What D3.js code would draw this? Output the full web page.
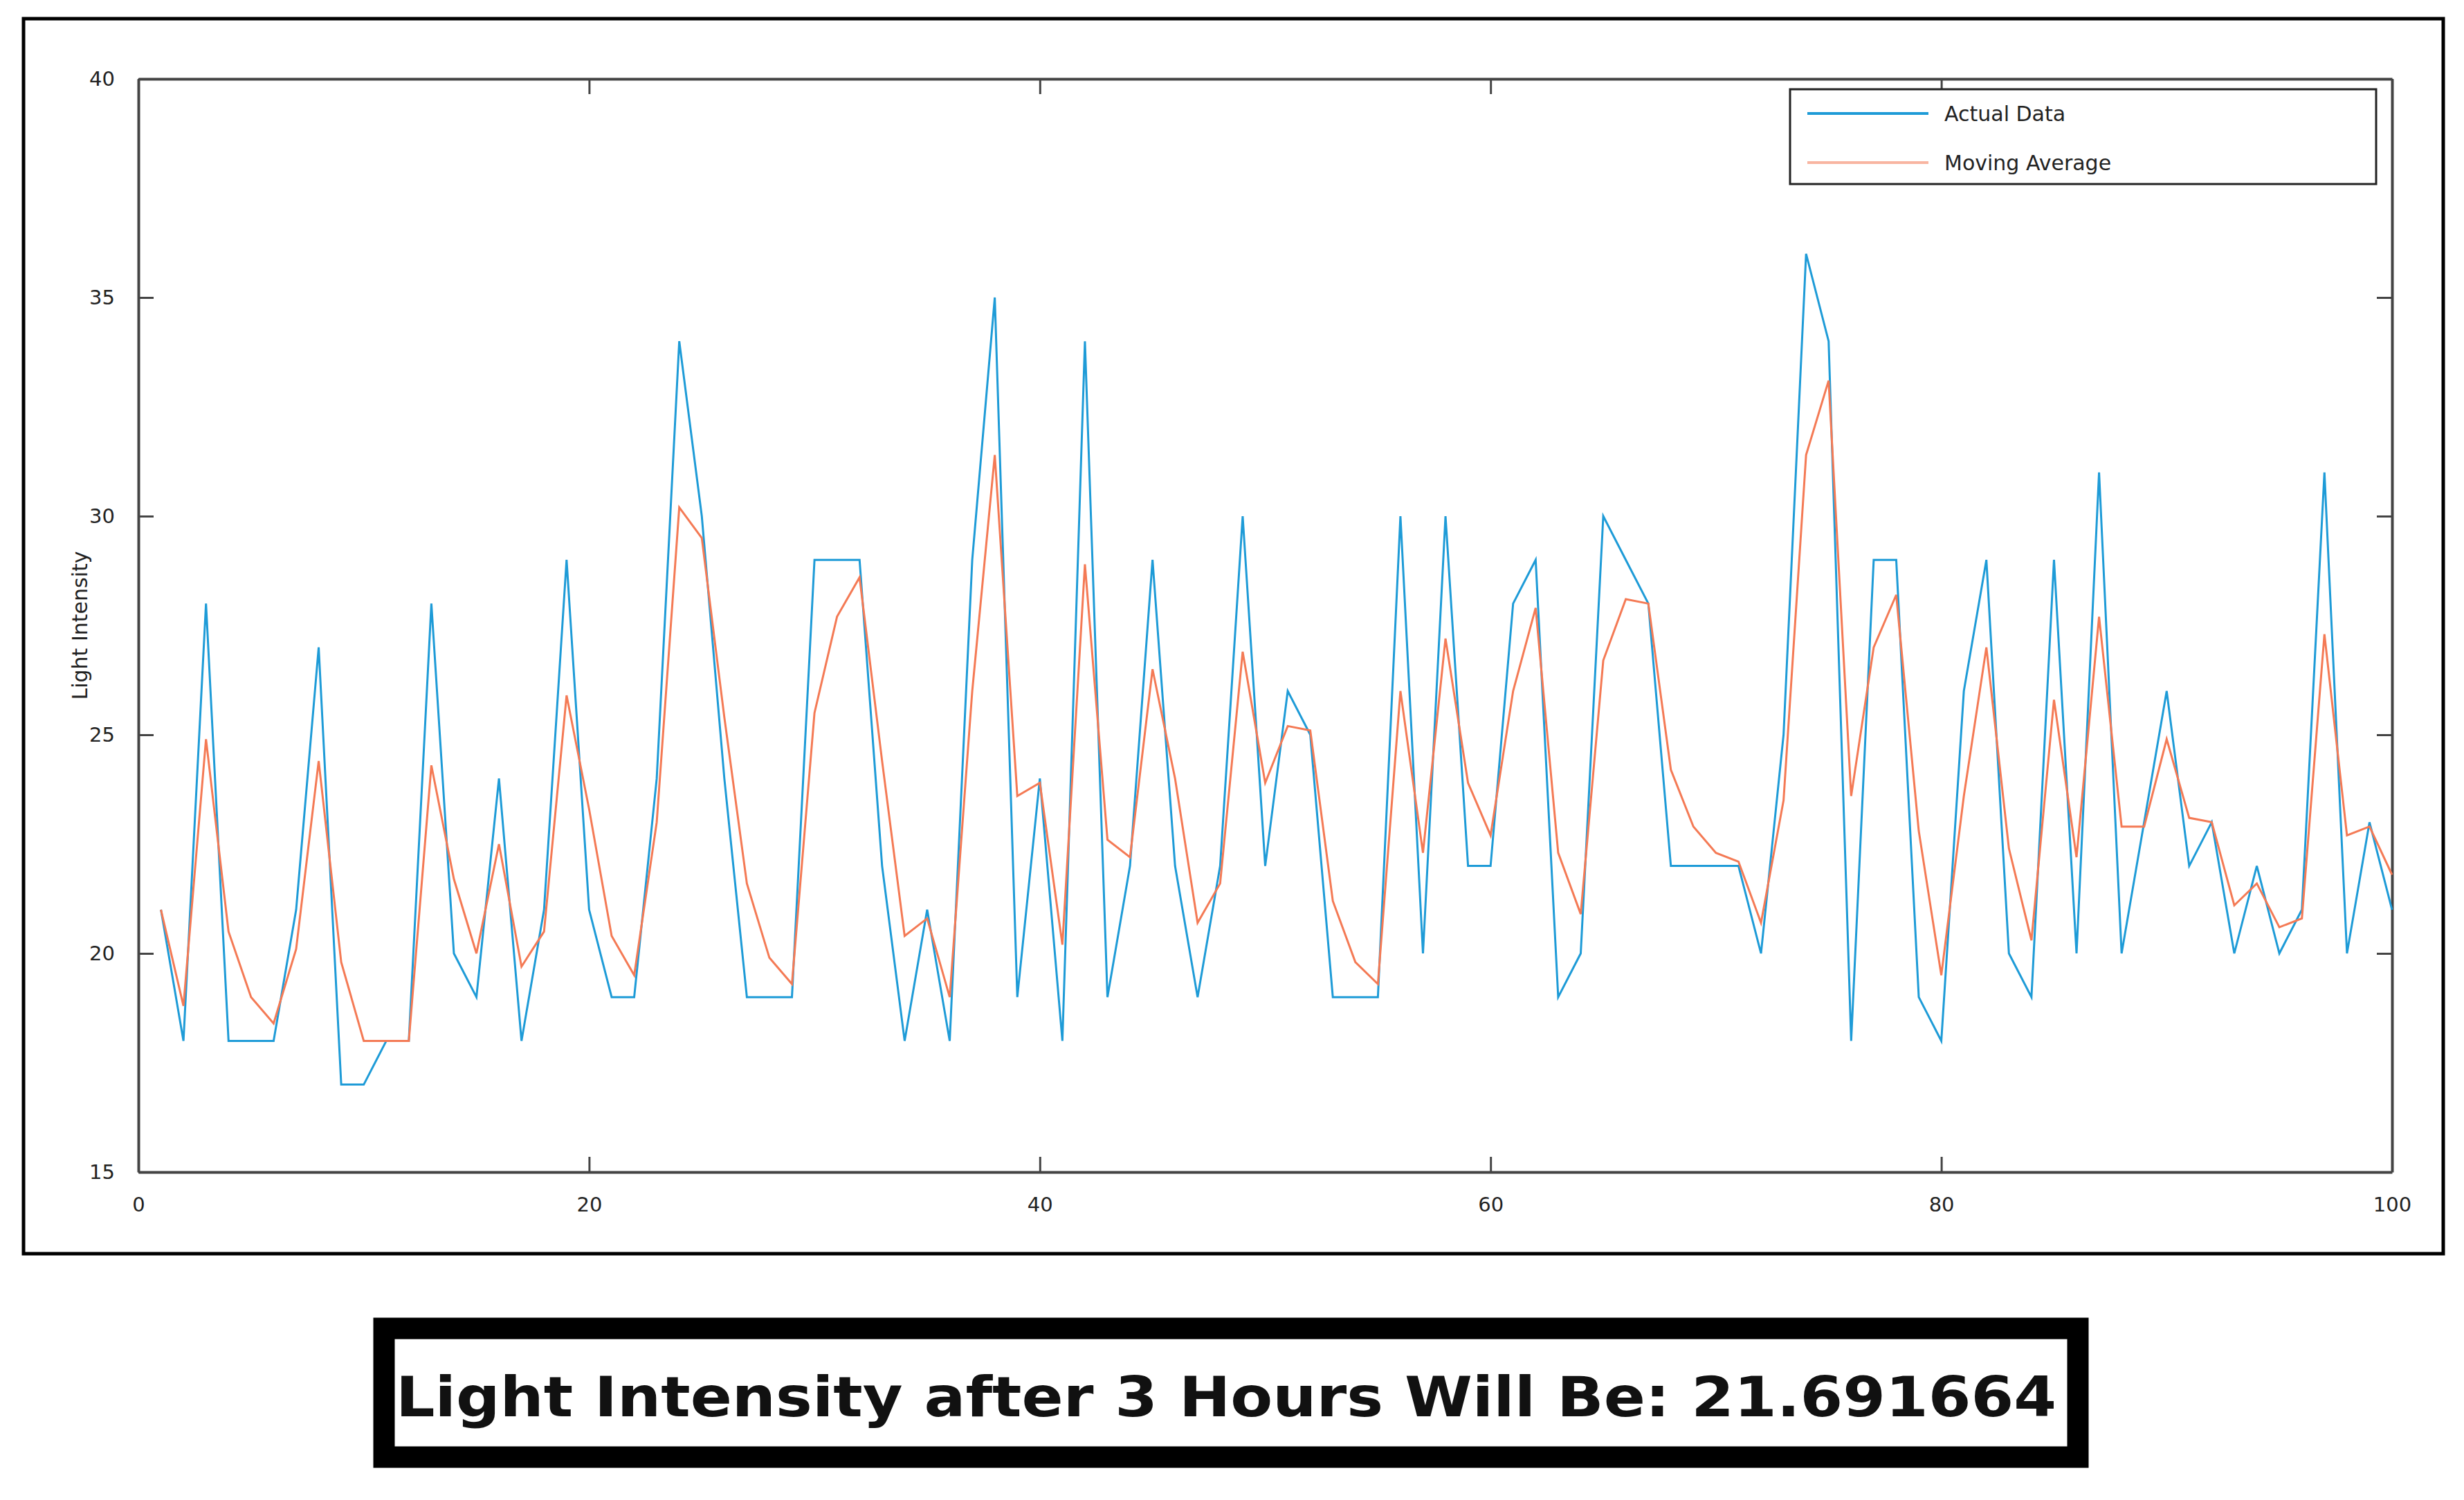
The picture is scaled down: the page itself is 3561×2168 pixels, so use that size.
<!DOCTYPE html>
<html>
<head>
<meta charset="utf-8">
<script src="https://cdn.jsdelivr.net/npm/d3@7"></script>
<style>
  body { margin: 0; background: #fff; }
  text { font-family: "DejaVu Sans", Verdana, sans-serif; }
</style>
</head>
<body>
<div id="chart"></div>
<script>
// Data (index 1..100)
var actualData = [21,18,28,18,18,18,21,27,17,17, 18,18,28,20,19,24,18,21,29,21,
  19,19,24,34,30,24,19,19,19,29, 29,29,22,18,21,18,29,35,19,24,
  18,34,19,22,29,22,19,22,30,22, 26,25,19,19,19,30,20,30,22,22,
  28,29,19,20,30,29,28,22,22,22, 22,20,25,36,34,18,29,29,19,18,
  26,29,20,19,29,20,31,20,23,26, 22,23,20,22,20,21,31,20,23,21];
var movingAverage = [21,18.8,24.9,20.5,19,18.4,20.1,24.4,19.8,18, 18,18,24.3,21.7,20,22.5,19.7,20.5,25.9,23.3,
  20.4,19.5,23,30.2,29.5,25.4,21.6,19.9,19.3,25.5, 27.7,28.6,24.4,20.4,20.8,19,26,31.4,23.6,23.9,
  20.2,28.9,22.6,22.2,26.5,24,20.7,21.6,26.9,23.9, 25.2,25.1,21.2,19.8,19.3,26,22.3,27.2,23.9,22.7,
  26,27.9,22.3,20.9,26.7,28.1,28,24.2,22.9,22.3, 22.1,20.7,23.5,31.4,33.1,23.6,27,28.2,22.8,19.5,
  23.6,27,22.4,20.3,25.8,22.2,27.7,22.9,22.9,24.9, 23.1,23,21.1,21.6,20.6,20.8,27.3,22.7,22.9,21.8];
var xTicks = [0,20,40,60,80,100];
var yTicks = [15,20,25,30,35,40];
var seriesNames = ["Actual Data", "Moving Average"];
var seriesColors = ["#1e9bd7", "#f47a55"];
var resultText = "Light Intensity after 3 Hours Will Be: 21.691664";

var svgWidth = 3561, svgHeight = 2168;
var margin = {top: 114, right: 104, bottom: 474, left: 200};
var width = svgWidth - margin.left - margin.right;
var height = svgHeight - margin.top - margin.bottom;

var svg = d3.select("#chart").append("svg")
  .attr("width", svgWidth).attr("height", svgHeight);

// outer frame
svg.append("rect").attr("x", 34).attr("y", 27).attr("width", 3497).attr("height", 1785)
  .attr("fill", "none").attr("stroke", "#000").attr("stroke-width", 5);

var g = svg.append("g").attr("transform", `translate(${margin.left},${margin.top})`);

var x = d3.scaleLinear().domain([0, 100]).range([0, width]);
var y = d3.scaleLinear().domain([15, 40]).range([height, 0]);

function styleAxis(sel) {
  sel.selectAll("path").attr("stroke", "#444").attr("stroke-width", 4);
  sel.selectAll("line").attr("stroke", "#444").attr("stroke-width", 3);
  sel.selectAll("text").attr("font-size", 29).attr("fill", "#222");
}
g.append("g").attr("transform", `translate(0,${height})`)
  .call(d3.axisBottom(x).tickValues(xTicks).tickSizeInner(-22).tickSizeOuter(0).tickPadding(36))
  .call(styleAxis);
g.append("g")
  .call(d3.axisTop(x).tickValues(xTicks).tickSizeInner(-22).tickSizeOuter(0).tickFormat(""))
  .call(styleAxis);
g.append("g")
  .call(d3.axisLeft(y).tickValues(yTicks).tickSizeInner(-22).tickSizeOuter(0).tickPadding(34))
  .call(styleAxis);
g.append("g").attr("transform", `translate(${width},0)`)
  .call(d3.axisRight(y).tickValues(yTicks).tickSizeInner(-22).tickSizeOuter(0).tickFormat(""))
  .call(styleAxis);

g.append("text")
  .attr("transform", `translate(-74,${y(27.5)}) rotate(-90)`)
  .attr("text-anchor", "middle").attr("font-size", 30).attr("fill", "#222")
  .text("Light Intensity");

var line = d3.line().x(function(d, i) { return x(i + 1); }).y(function(d) { return y(d); });

[actualData, movingAverage].forEach(function(series, k) {
  g.append("path").datum(series)
    .attr("fill", "none").attr("stroke", seriesColors[k]).attr("stroke-width", 3)
    .attr("d", line);
});

// legend
var legend = svg.append("g").attr("transform", "translate(2587,129)");
legend.append("rect").attr("width", 847).attr("height", 137)
  .attr("fill", "#fff").attr("stroke", "#222").attr("stroke-width", 3);
seriesNames.forEach(function(name, k) {
  var ly = 35 + k * 71;
  legend.append("line").attr("x1", 25).attr("x2", 200).attr("y1", ly).attr("y2", ly)
    .attr("stroke", seriesColors[k]).attr("stroke-width", 4).attr("opacity", k ? 0.55 : 1);
  legend.append("text").attr("x", 223).attr("y", ly + 11)
    .attr("font-size", 30).attr("fill", "#222").text(name);
});

// result box
svg.append("rect").attr("x", 555).attr("y", 1920).attr("width", 2448).attr("height", 186)
  .attr("fill", "#fff").attr("stroke", "#000").attr("stroke-width", 31);
svg.append("text").attr("x", 572).attr("y", 2047)
  .attr("font-family", "'Liberation Mono', 'DejaVu Sans Mono', monospace")
  .attr("font-size", 80).attr("font-weight", "bold").attr("fill", "#111")
  .attr("textLength", 2400).attr("lengthAdjust", "spacingAndGlyphs")
  .text(resultText);
</script>
</body>
</html>
